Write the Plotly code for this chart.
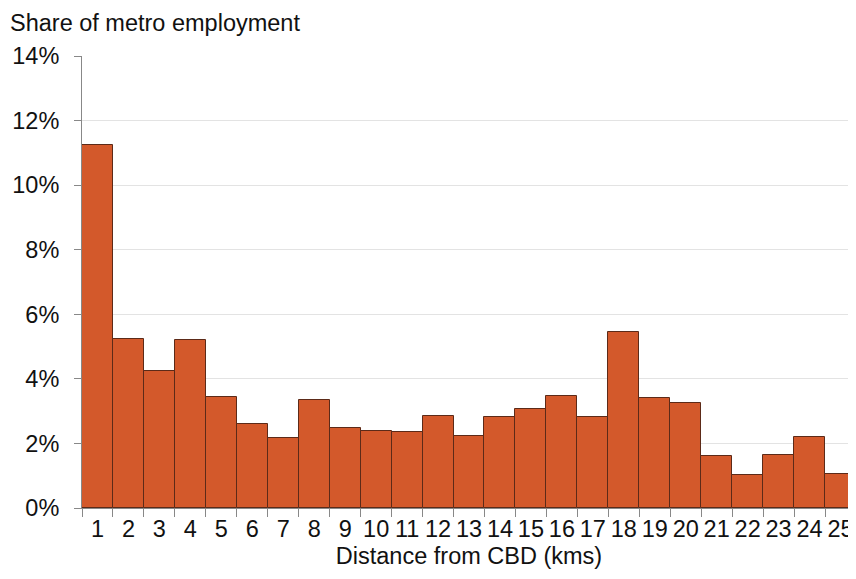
import plotly.graph_objects as go

distance_km = [str(i) for i in range(1, 26)]
share_pct = [11.24, 5.23, 4.24, 5.20, 3.44, 2.60, 2.17, 3.34, 2.48, 2.38,
             2.35, 2.85, 2.23, 2.82, 3.07, 3.47, 2.82, 5.45, 3.41, 3.25,
             1.61, 1.02, 1.64, 2.20, 1.05]
y_ticks = [0, 2, 4, 6, 8, 10, 12, 14]
y_tick_labels = [f"{v}%" for v in y_ticks]

FONT = "Liberation Sans, Arial, sans-serif"
FS = 23.5

fig = go.Figure(go.Bar(
    x=distance_km, y=share_pct,
    marker=dict(color="#D3592B", line=dict(color="#5C2A18", width=1)),
    hoverinfo="x+y",
))

fig.update_layout(
    width=848, height=562,
    margin=dict(l=74, r=0, t=48, b=62),
    plot_bgcolor="white", paper_bgcolor="white",
    bargap=0,
    showlegend=False,
    font=dict(family=FONT, size=FS, color="#111111"),
    annotations=[dict(text="Share of metro employment", xref="paper", yref="paper",
                      x=-73/774, y=1, yshift=47, xanchor="left", yanchor="top",
                      borderpad=0,
                      showarrow=False, font=dict(family=FONT, size=FS, color="#111111"))],
)
fig.update_xaxes(
    type="category", tickson="boundaries", range=[-0.5, 24.5],
    ticks="outside", ticklen=8, tickcolor="#888888",
    showline=True, linecolor="#888888", linewidth=1,
    showgrid=False, tickangle=0, automargin=False,
    title=dict(text="Distance from CBD (kms)", font=dict(family=FONT, size=FS), standoff=6),
    tickfont=dict(family=FONT, size=FS),
)
fig.update_yaxes(
    range=[0, 14], tickvals=y_ticks, ticktext=y_tick_labels,
    ticks="outside", ticklen=7, tickcolor="#888888",
    showline=True, linecolor="#888888", linewidth=1,
    showgrid=True, gridcolor="#e3e3e3", gridwidth=1,
    zeroline=False, automargin=False,
    tickfont=dict(family=FONT, size=FS),
    ticklabelstandoff=10,
)

fig.write_html("out.html")
